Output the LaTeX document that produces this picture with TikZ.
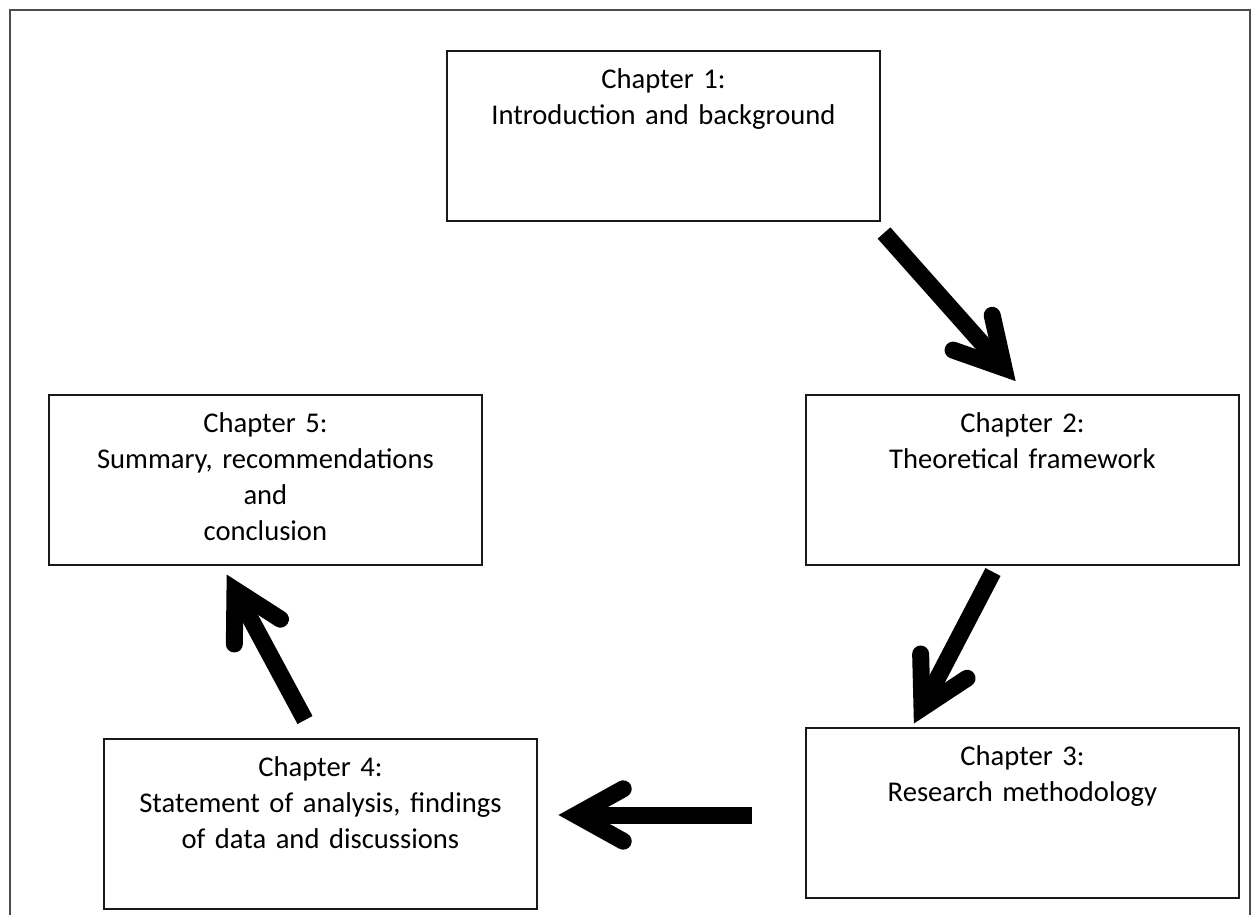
\documentclass[tikz,border=0pt]{standalone}
\usepackage{fontspec}
\setmainfont{Carlito}
\usetikzlibrary{calc}

\begin{document}
\begin{tikzpicture}[x=0.5pt,y=-0.5pt,
  chapbox/.style={draw=black!90,line width=0.9pt,anchor=north west,inner sep=0pt,
    text width=216.5pt,align=center,text height=19pt,text depth=66pt,
    font=\fontsize{14.3}{18}\selectfont},
  shaft/.style={line width=8.5pt},
  barbs/.style={line width=8.5pt,line cap=round,line join=miter}]
\useasboundingbox (0,0) rectangle (1254,915);
\draw[line width=1.3pt,black!70] (10,915) -- (10,10) -- (1250,10) -- (1250,915);

\node[chapbox] (ch1) at (446,50) {Chapter 1:\\Introduction and background};
\node[chapbox] (ch2) at (805,394) {Chapter 2:\\Theoretical framework};
\node[chapbox] (ch3) at (805,727) {Chapter 3:\\Research methodology};
\node[chapbox] (ch4) at (103,738) {Chapter 4:\\Statement of analysis, findings\\of data and discussions};
\node[chapbox] (ch5) at (48,394) {Chapter 5:\\Summary, recommendations\\and\\conclusion};

% arrow tails and heads
\coordinate (t12) at (884,233);  \coordinate (h12) at (1004,368);
\coordinate (t23) at (993,572);  \coordinate (h23) at (922,708);
\coordinate (t34) at (752,815);  \coordinate (h34) at (576,815);
\coordinate (t45) at (305,720);  \coordinate (h45) at (235,590);

\draw[shaft] (t12) -- (h12);
\draw[barbs] ($(h12)!27pt!29:(t12)$) -- (h12) -- ($(h12)!27pt!-29:(t12)$);
\draw[shaft] (t23) -- (h23);
\draw[barbs] ($(h23)!27pt!29:(t23)$) -- (h23) -- ($(h23)!27pt!-29:(t23)$);
\draw[shaft] (t34) -- (h34);
\draw[barbs] ($(h34)!27pt!29:(t34)$) -- (h34) -- ($(h34)!27pt!-29:(t34)$);
\draw[shaft] (t45) -- (h45);
\draw[barbs] ($(h45)!27pt!29:(t45)$) -- (h45) -- ($(h45)!27pt!-29:(t45)$);

\end{tikzpicture}
\end{document}
